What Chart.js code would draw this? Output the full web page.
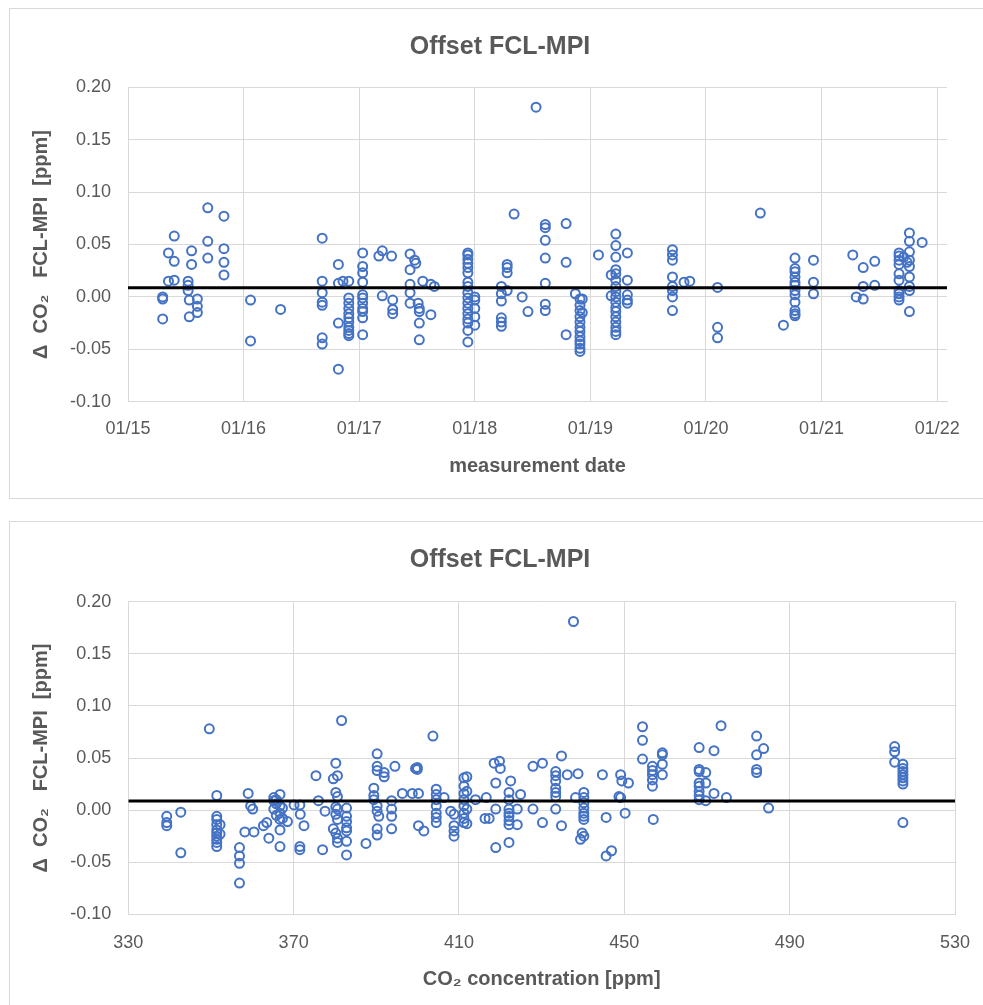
<!DOCTYPE html>
<html>
<head>
<style type="text/css">
body {
	margin: 0;
	width: 983px;
	height: 1005px;
	position: relative;
	overflow: hidden;
	background: #fff;
	font-family: 'Liberation Sans', Arial, sans-serif;
}
.box {
	position: absolute;
	border: 1px solid #d9d9d9;
	box-sizing: border-box;
}
.holder {
	position: absolute;
	left: 0;
}
</style>
<title>Offset FCL-MPI</title>
<script type="text/javascript" src="https://cdn.jsdelivr.net/npm/chart.js@4.4.1/dist/chart.umd.min.js"></script>
</head>
<body>
<div class="box" style="left:9px; top:8px; width:990px; height:491px;"></div>
<div class="box" style="left:9px; top:521px; width:990px; height:500px;"></div>
<div class="holder" style="top:0px;"><canvas id="dateChart" width="983" height="505"></canvas></div>
<div class="holder" style="top:505px;"><canvas id="co2Chart" width="983" height="500"></canvas></div>
<script type="text/javascript">
	// tick positions and labels
	var dateTicks = [2015, 2016, 2017, 2018, 2019, 2020, 2021, 2022];
	var dateTickLabels = ['01/15', '01/16', '01/17', '01/18', '01/19', '01/20', '01/21', '01/22'];
	var co2Ticks = [330, 370, 410, 450, 490, 530];
	var offsetTicks = [-0.10, -0.05, 0.00, 0.05, 0.10, 0.15, 0.20];

	// mean offset (black line)
	var meanOffset = 0.0087;

	// measurement date (decimal year) -> offsets measured on that day
	var dateGroups = [
		[2015.30, [-0.021, 0.000, -0.002]],
		[2015.35, [0.042, 0.015]],
		[2015.40, [0.058, 0.034, 0.016]],
		[2015.52, [0.015, 0.011, 0.006]],
		[2015.53, [-0.003, -0.019]],
		[2015.55, [0.044, 0.031]],
		[2015.60, [-0.002, -0.009, -0.015]],
		[2015.69, [0.085, 0.053, 0.037]],
		[2015.83, [0.077, 0.046, 0.033, 0.021]],
		[2016.06, [-0.003, -0.042]],
		[2016.32, [-0.012]],
		[2016.68, [0.056, 0.015, 0.004, -0.005, -0.008, -0.039, -0.045]],
		[2016.82, [0.031, 0.013, -0.025, -0.069]],
		[2016.86, [0.015]],
		[2016.91, [0.015, -0.001, -0.006, -0.011, -0.016, -0.020, -0.024, -0.029, -0.032, -0.035, -0.037]],
		[2017.03, [0.042, 0.029, 0.023, 0.014, 0.002, -0.001, -0.006, -0.011, -0.014, -0.020, -0.036]],
		[2017.17, [0.039]],
		[2017.20, [0.044, 0.001]],
		[2017.28, [0.039]],
		[2017.29, [-0.003, -0.012, -0.016]],
		[2017.44, [0.041, 0.026, 0.012, 0.004, -0.006]],
		[2017.48, [0.035]],
		[2017.49, [0.032]],
		[2017.51, [-0.006]],
		[2017.52, [-0.011, -0.014, -0.025, -0.041]],
		[2017.55, [0.015]],
		[2017.62, [0.012, -0.017]],
		[2017.65, [0.010]],
		[2017.94, [0.042, 0.040, 0.036, 0.032, 0.028, 0.023, 0.014, 0.010, 0.004, -0.001, -0.006, -0.011, -0.016, -0.021, -0.025, -0.032, -0.043]],
		[2018.00, [0.000, -0.003, -0.011, -0.019, -0.027]],
		[2018.23, [0.010, 0.003, -0.004, -0.020, -0.024, -0.028]],
		[2018.28, [0.031, 0.028, 0.023, 0.006]],
		[2018.34, [0.079]],
		[2018.41, [0.000]],
		[2018.46, [-0.014]],
		[2018.53, [0.181]],
		[2018.61, [0.069, 0.066, 0.054, 0.037, 0.013, -0.007, -0.013]],
		[2018.79, [0.070, 0.033, -0.036]],
		[2018.87, [0.003]],
		[2018.91, [-0.002, -0.008, -0.013, -0.019, -0.024, -0.029, -0.033, -0.038, -0.042, -0.045, -0.049, -0.052]],
		[2018.93, [-0.002, -0.015]],
		[2019.07, [0.040]],
		[2019.18, [0.021, 0.001]],
		[2019.22, [0.060, 0.049, 0.038, 0.026, 0.022, 0.016, 0.010, 0.005, 0.000, -0.005, -0.010, -0.014, -0.019, -0.024, -0.029, -0.033, -0.036]],
		[2019.32, [0.042, 0.016, 0.002, -0.003, -0.006]],
		[2019.71, [0.045, 0.040, 0.035, 0.019, 0.010, 0.006, 0.000, -0.013]],
		[2019.81, [0.014]],
		[2019.86, [0.015]],
		[2020.10, [0.009, -0.029, -0.039]],
		[2020.47, [0.080]],
		[2020.67, [-0.027]],
		[2020.77, [0.037, 0.027, 0.024, 0.019, 0.014, 0.011, 0.006, 0.002, -0.005, -0.013, -0.016, -0.018]],
		[2020.93, [0.035, 0.014, 0.003]],
		[2021.27, [0.040]],
		[2021.30, [0.000]],
		[2021.36, [0.028, 0.010, -0.002]],
		[2021.46, [0.034, 0.011]],
		[2021.67, [0.042, 0.039, 0.035, 0.031, 0.022, 0.016, 0.006, 0.003, 0.000, -0.003]],
		[2021.71, [0.038]],
		[2021.74, [0.033]],
		[2021.76, [0.061, 0.053, 0.043, 0.035, 0.029, 0.019, 0.010, 0.006, -0.014]],
		[2021.87, [0.052]]
	];

	// CO2 concentration [ppm] -> offsets at that concentration
	var co2Groups = [
		[339.3, [-0.006, -0.012, -0.015]],
		[342.7, [-0.002, -0.041]],
		[349.6, [0.078]],
		[351.4, [0.014, -0.006, -0.009, -0.014, -0.019, -0.022, -0.025, -0.028, -0.031, -0.035]],
		[352.2, [-0.014, -0.023]],
		[356.9, [-0.036, -0.044, -0.051, -0.070]],
		[358.2, [-0.021]],
		[359.0, [0.016]],
		[359.6, [0.004]],
		[360.1, [0.001]],
		[360.4, [-0.021]],
		[362.7, [-0.015]],
		[363.5, [-0.012]],
		[364.0, [-0.027]],
		[365.2, [0.012, 0.009, 0.001]],
		[365.8, [0.010, 0.006, -0.005]],
		[366.7, [0.015, 0.004, -0.003, -0.009, -0.019, -0.035]],
		[367.3, [0.002, -0.008]],
		[368.5, [-0.011]],
		[370.1, [0.005]],
		[371.5, [0.005, -0.035, -0.038]],
		[371.6, [-0.004]],
		[372.5, [-0.015]],
		[375.4, [0.033]],
		[376.0, [0.009]],
		[377.0, [-0.038]],
		[377.6, [-0.001]],
		[379.6, [0.030, -0.018]],
		[380.2, [0.045, 0.017, 0.003, -0.004, -0.022]],
		[380.6, [0.033, 0.013, 0.001, -0.009, -0.027, -0.031]],
		[381.6, [0.086]],
		[382.8, [0.002, -0.006, -0.011, -0.017, -0.020, -0.030, -0.043]],
		[387.5, [-0.032]],
		[389.4, [0.021, 0.014, 0.010]],
		[390.2, [0.054, 0.042, 0.038, 0.004, -0.001, -0.018, -0.024]],
		[390.6, [-0.006]],
		[391.9, [0.036, 0.032]],
		[393.7, [0.009, 0.001, -0.006, -0.018]],
		[394.5, [0.042]],
		[396.3, [0.016]],
		[398.7, [0.016]],
		[399.5, [0.040]],
		[399.9, [0.039, 0.041]],
		[400.2, [0.016, -0.015]],
		[401.5, [-0.020]],
		[403.7, [0.071]],
		[404.5, [0.020, 0.015, 0.010, 0.004, -0.003, -0.007, -0.012]],
		[406.4, [0.012]],
		[408.0, [-0.001]],
		[408.8, [-0.004, -0.015, -0.020, -0.025]],
		[411.2, [0.031, 0.023, 0.016, 0.010, 0.004, -0.003, -0.008, -0.012]],
		[411.9, [0.032, 0.018, 0.001, -0.013]],
		[414.0, [0.010]],
		[416.3, [-0.008]],
		[416.6, [0.012]],
		[417.3, [-0.008]],
		[418.5, [0.045]],
		[418.9, [0.026, 0.001, -0.036]],
		[419.8, [0.047]],
		[420.0, [0.040]],
		[422.1, [0.017, 0.010, 0.001, -0.003, -0.006, -0.010, -0.014, -0.031]],
		[422.5, [0.028]],
		[424.1, [0.001, -0.014]],
		[424.9, [0.015]],
		[427.9, [0.042, 0.001]],
		[430.2, [0.045, -0.012]],
		[433.4, [0.037, 0.033, 0.028, 0.021, 0.017, 0.013, 0.001]],
		[434.8, [0.052, -0.015]],
		[436.2, [0.034]],
		[437.7, [0.181]],
		[438.2, [0.012]],
		[438.8, [0.035]],
		[439.4, [-0.028]],
		[439.8, [-0.022]],
		[440.2, [0.017, 0.012, 0.007, 0.002, -0.003, -0.006, -0.009, -0.025]],
		[444.7, [0.034]],
		[445.6, [-0.007, -0.044]],
		[446.9, [-0.039]],
		[448.7, [0.013]],
		[449.1, [0.034, 0.012]],
		[449.4, [0.028]],
		[450.2, [-0.003]],
		[451.0, [0.026]],
		[454.4, [0.080, 0.067, 0.049]],
		[456.8, [0.042, 0.038, 0.034, 0.029, 0.023]],
		[457.0, [-0.009]],
		[459.2, [0.055, 0.053, 0.044, 0.034]],
		[468.1, [0.060, 0.039, 0.037, 0.026, 0.023, 0.018, 0.014, 0.010]],
		[469.7, [0.036, 0.026, 0.009]],
		[471.7, [0.057, 0.016]],
		[473.4, [0.081]],
		[474.7, [0.012]],
		[482.0, [0.071, 0.053, 0.039, 0.036]],
		[483.7, [0.059]],
		[484.9, [0.002]],
		[515.4, [0.061, 0.056, 0.046]],
		[517.4, [0.044, 0.040, 0.037, 0.034, 0.031, 0.028, 0.025, -0.012]]
	];

	var FONT = "'Liberation Sans', Arial, sans-serif";
	var GREY = '#595959';
	var GRID = '#d9d9d9';

	function toPoints(groups) {
		var pts = [];
		for (var i = 0; i < groups.length; ++i) {
			for (var j = 0; j < groups[i][1].length; ++j) {
				pts.push({x: groups[i][0], y: groups[i][1][j]});
			}
		}
		return pts;
	}

	function createChart(id, s) {
		var context = document.getElementById(id).getContext('2d');
		return new Chart(context, {
			type: 'scatter',
			data: {
				datasets: [
					{
						type: 'line',
						data: [{x: s.xMin, y: meanOffset}, {x: s.xMax, y: meanOffset}],
						borderColor: '#000000',
						borderWidth: 3,
						pointRadius: 0,
						order: 0
					},
					{
						data: toPoints(s.groups),
						borderColor: '#4472C4',
						backgroundColor: 'rgba(0,0,0,0)',
						pointRadius: 4.5,
						borderWidth: 2,
						order: 1
					}
				]
			},
			options: {
				responsive: false,
				animation: false,
				devicePixelRatio: 1,
				// small right padding so the title centres on the whole chart box
				layout: {padding: {left: 20, right: 3, top: 0, bottom: 0}},
				plugins: {
					legend: {display: false},
					tooltip: {enabled: false},
					title: {
						display: true,
						text: 'Offset FCL-MPI',
						color: GREY,
						font: {family: FONT, size: 25, weight: 'bold', lineHeight: 1.2},
						padding: {top: s.titleTop, bottom: s.titleBottom}
					}
				},
				scales: {
					x: {
						type: 'linear',
						min: s.xMin,
						max: s.xMax,
						afterBuildTicks: function (scale) {
							scale.ticks = s.xTicks.map(function (v) { return {value: v}; });
						},
						afterFit: function (scale) { scale.height = s.xHeight; },
						// invisible tick marks push the labels down without widening the side padding
						grid: {color: GRID, drawTicks: true, tickLength: s.xTickGap, tickColor: 'rgba(0,0,0,0)'},
						border: {color: GRID},
						ticks: {
							padding: 2,
							color: GREY,
							maxRotation: 0,
							autoSkip: false,
							font: {family: FONT, size: 18},
							callback: function (v, i) { return s.xLabels[i]; }
						},
						title: {
							display: true,
							text: s.xTitle,
							color: GREY,
							font: {family: FONT, size: 20, weight: 'bold', lineHeight: 1.2},
							padding: {top: 0, bottom: s.xTitleBottom}
						}
					},
					y: {
						type: 'linear',
						min: -0.10,
						max: 0.20,
						afterBuildTicks: function (scale) {
							scale.ticks = offsetTicks.map(function (v) { return {value: v}; });
						},
						afterFit: function (scale) { scale.width = s.yWidth; },
						grid: {color: GRID, drawTicks: false},
						border: {display: false},
						ticks: {
							padding: 17,
							color: GREY,
							font: {family: FONT, size: 18},
							callback: function (v) { return v.toFixed(2); }
						},
						title: {
							display: true,
							text: '\u0394  CO\u2082   FCL-MPI  [ppm]',
							color: GREY,
							font: {family: FONT, size: 20, weight: 'bold', lineHeight: 1.2},
							padding: {top: 9, bottom: 0}
						}
					},
					// empty right-hand space between plot and box edge
					yRight: {
						type: 'linear',
						position: 'right',
						min: -0.10,
						max: 0.20,
						afterFit: function (scale) { scale.width = s.rightGap; },
						grid: {display: false},
						border: {display: false},
						ticks: {display: false}
					}
				}
			}
		});
	}

	createChart('dateChart', {
		groups: dateGroups,
		xMin: 2015,
		xMax: 2022.085,
		xTicks: dateTicks,
		xLabels: dateTickLabels,
		xTitle: 'measurement date',
		rightGap: 33,
		titleTop: 32,
		titleBottom: 25.3,
		xHeight: 103.3,
		xTickGap: 14.5,
		xTitleBottom: 27,
		yWidth: 108
	});

	createChart('co2Chart', {
		groups: co2Groups,
		xMin: 330,
		xMax: 530,
		xTicks: co2Ticks,
		xLabels: co2Ticks.map(String),
		xTitle: 'CO\u2082 concentration [ppm]',
		rightGap: 25,
		titleTop: 40,
		titleBottom: 26.7,
		xHeight: 90.7,
		xTickGap: 15.9,
		xTitleBottom: 14,
		yWidth: 108.3
	});
</script>
</body>
</html>
